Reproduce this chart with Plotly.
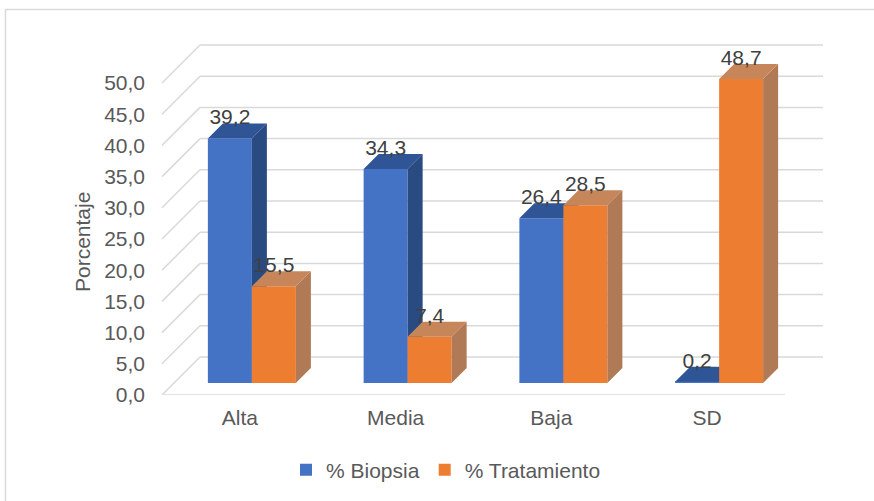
import plotly.graph_objects as go

# ---- data ----
categories = ["Alta", "Media", "Baja", "SD"]
biopsia = [39.2, 34.3, 26.4, 0.2]
tratamiento = [15.5, 7.4, 28.5, 48.7]
series_names = ["% Biopsia", "% Tratamiento"]
y_ticks = [0, 5, 10, 15, 20, 25, 30, 35, 40, 45, 50]
y_title = "Porcentaje"

# ---- geometry of the pseudo-3D view (pixels) ----
W, H = 874, 501
ML, MR, MT, MB = 152, 14, 9, 106
PLOT_W, PLOT_H = W - ML - MR, H - MT - MB
PX_X = 155.75          # pixels per category
PX_Y = 6.24            # pixels per percentage point
D_BAR_FRONT = 12       # depth of bar front faces
D_BAR_BACK = 27        # depth of bar back faces
D_WALL = 38            # depth of the back wall
BAR_PX = 44            # bar width
LABEL_DROP = 6         # value labels sit slightly into the top face

def dx(d):
    return d / PX_X

def dy(d):
    return d / PX_Y

x0 = -0.5 - dx(10)
x_range = [x0, x0 + PLOT_W / PX_X]
y_range = [0, PLOT_H / PX_Y]
bw = BAR_PX / PX_X

def px_to_paper(px, py):
    return (px - ML) / PLOT_W, (H - MB - py) / PLOT_H

BLUE, BLUE_TOP, BLUE_SIDE = "#4472C4", "#2F5597", "#2A4A82"
ORANGE, ORANGE_TOP, ORANGE_SIDE = "#ED7D31", "#C6865A", "#AF7A55"
GRID = "#D9D9D9"
FONT = "Liberation Sans, Arial, sans-serif"
TICK_COLOR = "#595959"
LABEL_COLOR = "#404040"

fig = go.Figure()


def add_series(values, shift, name, front, top, side, xa, ya):
    centers = [i + dx(D_BAR_FRONT) + shift * bw / 2 for i in range(len(values))]
    fig.add_trace(go.Bar(
        x=centers, y=values, base=[dy(D_BAR_FRONT)] * len(values), width=bw,
        marker=dict(color=front, line=dict(width=0)), name=name,
        xaxis=xa, yaxis=ya, hoverinfo="skip",
    ))
    sx, sy, tx, ty = [], [], [], []
    o1, o2, dd = dy(D_BAR_FRONT), dy(D_BAR_BACK), dx(D_BAR_BACK - D_BAR_FRONT)
    for c, v in zip(centers, values):
        left, right = c - bw / 2, c + bw / 2
        tx += [left, right, right + dd, left + dd, left, None]
        ty += [v + o1, v + o1, v + o2, v + o2, v + o1, None]
        sx += [right, right + dd, right + dd, right, right, None]
        sy += [o1, o2, v + o2, v + o1, o1, None]
    for xs, ys, col in ((sx, sy, side), (tx, ty, top)):
        fig.add_trace(go.Scatter(
            x=xs, y=ys, mode="lines", fill="toself", fillcolor=col,
            line=dict(width=0, color=col), showlegend=False,
            xaxis=xa, yaxis=ya, hoverinfo="skip",
        ))
    fig.add_trace(go.Scatter(
        x=centers, y=[v + o2 - dy(LABEL_DROP) for v in values], mode="text",
        text=[f"{v:.1f}".replace(".", ",") for v in values],
        textposition="top center",
        textfont=dict(family=FONT, size=21, color=LABEL_COLOR),
        showlegend=False, xaxis=xa, yaxis=ya, hoverinfo="skip",
    ))


add_series(biopsia, -1, series_names[0], BLUE, BLUE_TOP, BLUE_SIDE, "x", "y")
add_series(tratamiento, 1, series_names[1], ORANGE, ORANGE_TOP, ORANGE_SIDE, "x2", "y2")

# back wall gridlines and floor edge
shapes = []
n = len(categories)
for v in y_ticks:
    pts = [(-0.5, v), (-0.5 + dx(D_WALL), v + dy(D_WALL)), (n - 0.5 + dx(D_WALL), v + dy(D_WALL))]
    for (ax, ay), (bx, by) in zip(pts[:-1], pts[1:]):
        shapes.append(dict(type="line", xref="x", yref="y", x0=ax, y0=ay, x1=bx, y1=by,
                           line=dict(color=GRID, width=1.5), layer="below"))
shapes.append(dict(type="line", xref="x", yref="y", x0=-0.5, y0=0, x1=n - 0.5, y1=0,
                   line=dict(color=GRID, width=1.5), layer="below"))

# chart area border
bx0, by1 = px_to_paper(5.5, 9.5)
bx1, by0 = px_to_paper(W + 20, H + 20)
shapes.append(dict(type="rect", xref="paper", yref="paper", x0=bx0, y0=by0, x1=bx1, y1=by1,
                   line=dict(color=GRID, width=1.5), fillcolor="rgba(0,0,0,0)", layer="below"))

tx_, ty_ = px_to_paper(83, 242)
lx_, ly_ = px_to_paper(446, 470)

fig.update_layout(
    width=W, height=H, template="none",
    margin=dict(l=ML, r=MR, t=MT, b=MB, autoexpand=False),
    paper_bgcolor="white", plot_bgcolor="white",
    barmode="overlay", separators=",.",
    font=dict(family=FONT, size=21, color=TICK_COLOR),
    shapes=shapes,
    xaxis=dict(range=x_range, tickvals=list(range(n)), ticktext=categories,
               showgrid=False, zeroline=False, showline=False, ticks="",
               ticklabelstandoff=8, automargin=False,
               tickfont=dict(family=FONT, size=21, color=TICK_COLOR)),
    yaxis=dict(range=y_range, tickvals=y_ticks, tickformat=".1f",
               showgrid=False, zeroline=False, showline=False, ticks="",
               ticklabelstandoff=6, automargin=False,
               tickfont=dict(family=FONT, size=21, color=TICK_COLOR)),
    xaxis2=dict(range=x_range, overlaying="x", anchor="y2", visible=False),
    yaxis2=dict(range=y_range, overlaying="y", anchor="x2", visible=False),
    legend=dict(orientation="h", x=lx_, y=ly_, xanchor="center", yanchor="middle",
                font=dict(family=FONT, size=21, color=TICK_COLOR),
                bgcolor="rgba(0,0,0,0)", itemwidth=30),
    annotations=[dict(text=y_title, xref="paper", yref="paper", x=tx_, y=ty_,
                      textangle=-90, showarrow=False, xanchor="center", yanchor="middle",
                      font=dict(family=FONT, size=21, color=TICK_COLOR))],
)

fig.write_html("out.html")
